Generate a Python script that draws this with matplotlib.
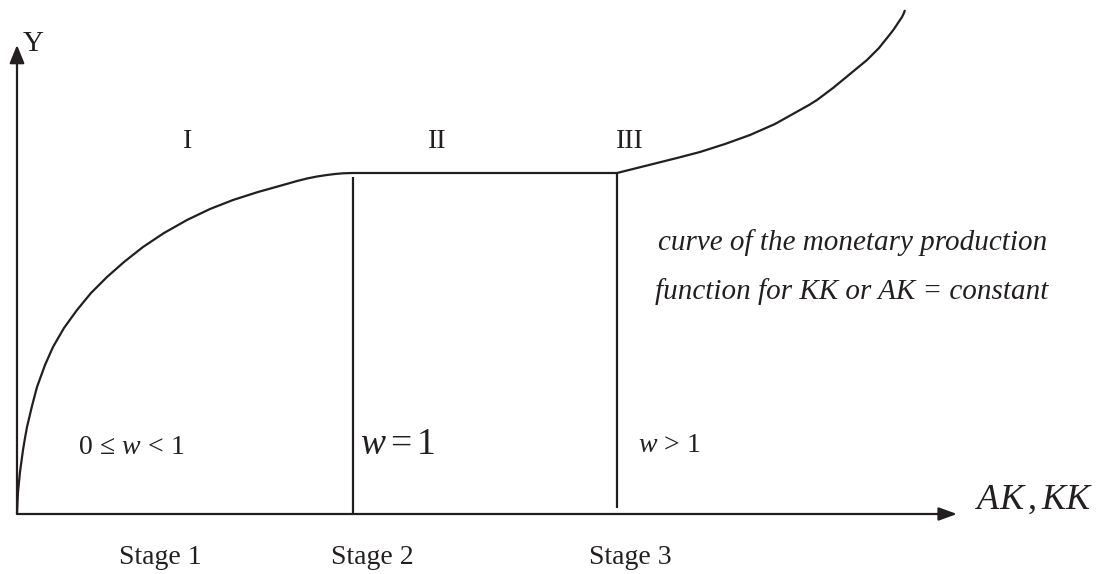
import matplotlib
matplotlib.use("Agg")
import matplotlib.pyplot as plt

plt.rcParams['font.family'] = ['Liberation Serif', 'DejaVu Serif']
plt.rcParams['mathtext.fontset'] = 'custom'
plt.rcParams['mathtext.rm'] = 'Liberation Serif'
plt.rcParams['mathtext.it'] = 'Liberation Serif:italic'

# Monetary production function, arbitrary units (origin at the axes corner)
stage1_x = [0, 0.5, 1, 2, 3, 4.5, 6, 8, 10, 15, 20, 28, 36, 47, 60, 74, 90, 107,
            126, 147, 170, 193, 216, 241, 266, 280, 290, 300, 310, 318, 326, 336]
stage1_y = [0, 12, 22, 32, 42, 53, 64, 76, 87, 108, 127, 149, 167, 186, 204, 221,
            237, 252, 267, 281, 294, 305, 314, 322, 329, 333, 335.5, 337.5, 339,
            340, 340.7, 341]
stage2_x = [336, 600]
stage2_y = [341, 341]
stage3_x = [600, 620, 640, 660, 683, 708, 733, 758, 783, 792, 800, 816, 833, 850,
            862, 870, 874, 877, 880, 883, 885, 886.5, 888]
stage3_y = [341, 346, 351, 356, 362, 370, 379, 390, 404, 409, 414, 426, 440, 454,
            466, 476, 481, 485, 489.5, 494, 497, 500, 504]

# stage boundaries: (x, y_bottom, y_top)
boundaries = [(336, 0, 337), (600, 6, 341)]

x_axis_end = 940
y_axis_end = 469

roman = ['I', 'II', 'III']
roman_x = [171, 420, 613]
stage_names = ['Stage 1', 'Stage 2', 'Stage 3']
stage_x = [143, 355, 613]
w_labels = [r'$0\,\leq\,w\,<\,1$', r'$w = 1$', r'$w\,>\,1$']

fig = plt.figure(figsize=(10.99, 5.74), dpi=100)
ax = fig.add_axes([0, 0, 1, 1])
ax.set_xlim(-17, 1082)
ax.set_ylim(-60, 514)
ax.axis('off')

lc = '#231f20'
lw = 1.6

# axes with arrow heads
ax.annotate('', xy=(0, y_axis_end), xytext=(0, 0),
            arrowprops=dict(arrowstyle='-|>,head_length=1.1,head_width=0.45',
                            color=lc, lw=lw, shrinkA=0, shrinkB=0))
ax.annotate('', xy=(x_axis_end, 0), xytext=(0, 0),
            arrowprops=dict(arrowstyle='-|>,head_length=1.1,head_width=0.4',
                            color=lc, lw=lw, shrinkA=0, shrinkB=0))

# the curve
ax.plot(stage1_x, stage1_y, color=lc, lw=lw, solid_capstyle='butt',
        solid_joinstyle='round')
ax.plot(stage2_x, stage2_y, color=lc, lw=lw, solid_capstyle='butt')
ax.plot(stage3_x, stage3_y, color=lc, lw=lw, solid_capstyle='butt',
        solid_joinstyle='round')
for bx, y0, y1 in boundaries:
    ax.plot([bx, bx], [y0, y1], color=lc, lw=lw, solid_capstyle='butt')

# labels
ax.text(6, 470, 'Y', fontsize=21, color=lc, ha='left', va='center')
for lab, xx in zip(roman, roman_x):
    ax.text(xx, 373, lab, fontsize=20, color=lc, ha='center', va='center')
for lab, xx in zip(stage_names, stage_x):
    ax.text(xx, -43, lab, fontsize=20, color=lc, ha='center', va='center')

ax.text(61, 67, w_labels[0], fontsize=20, color=lc, ha='left', va='center')
ax.text(343, 69, w_labels[1], fontsize=27, color=lc, ha='left', va='center')
ax.text(621, 69, w_labels[2], fontsize=20, color=lc, ha='left', va='center')

ax.text(958, 14, r'$AK\,,KK$', fontsize=26, color=lc, ha='left', va='center')

ax.text(641, 271, 'curve of the monetary production', fontsize=21,
        style='italic', color=lc, ha='left', va='center')
ax.text(638, 222, 'function for KK or AK = constant', fontsize=21,
        style='italic', color=lc, ha='left', va='center')

fig.savefig('out.png', dpi=100)
